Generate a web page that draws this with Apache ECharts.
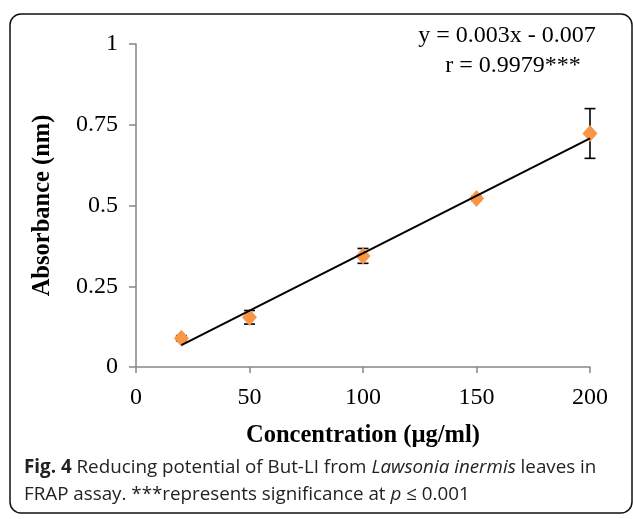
<!DOCTYPE html>
<html>
<head>
<meta charset="utf-8">
<script src="https://cdn.jsdelivr.net/npm/echarts@6.0.0/dist/echarts.min.js"></script>
<style>
  html, body { margin: 0; padding: 0; background: #fff; }
  #chart { width: 633px; height: 519px; }
</style>
</head>
<body>
<div id="chart"></div>
<script>
  // concentration (µg/ml)
  var concentration = [20, 50, 100, 150, 200];
  // absorbance, mean and error
  var absorbance = [0.089, 0.154, 0.344, 0.522, 0.723];
  var absError = [0.008, 0.021, 0.023, 0.006, 0.077];
  // trend line end points
  var trendX = [20, 200];
  var trendY = [0.068, 0.708];
  var xTicks = [0, 50, 100, 150, 200];
  var yTicks = [0, 0.25, 0.5, 0.75, 1];

  var chart = echarts.init(document.getElementById('chart'));

  var points = concentration.map(function (x, i) { return [x, absorbance[i]]; });
  var errors = concentration.map(function (x, i) { return [x, absorbance[i] - absError[i], absorbance[i] + absError[i]]; });
  var trend = trendX.map(function (x, i) { return [x, trendY[i]]; });

  var serif = 'Liberation Serif';
  var axisGray = '#868686';

  var option = {
    animation: false,
    backgroundColor: '#fff',
    grid: { left: 136, top: 44, width: 454, height: 323, outerBoundsMode: 'none' },
    xAxis: {
      type: 'value',
      min: xTicks[0], max: xTicks[xTicks.length - 1], interval: 50,
      name: 'Concentration (µg/ml)',
      nameLocation: 'middle',
      nameGap: 56,
      nameTextStyle: { fontFamily: serif, fontWeight: 'bold', fontSize: 24.5, color: '#000' },
      axisLine: { lineStyle: { color: axisGray, width: 1.5 } },
      axisTick: { length: 6, lineStyle: { color: axisGray, width: 1.5 } },
      axisLabel: { margin: 19, fontFamily: serif, fontSize: 24, color: '#000' },
      splitLine: { show: false }
    },
    yAxis: {
      type: 'value',
      min: yTicks[0], max: yTicks[yTicks.length - 1], interval: 0.25,
      name: 'Absorbance (nm)',
      nameLocation: 'middle',
      nameGap: 81,
      nameTextStyle: { fontFamily: serif, fontWeight: 'bold', fontSize: 24.5, color: '#000' },
      axisLine: { show: true, lineStyle: { color: axisGray, width: 1.5 } },
      axisTick: { show: true, length: 7, lineStyle: { color: axisGray, width: 1.5 } },
      axisLabel: { margin: 18, fontFamily: serif, fontSize: 24, color: '#000' },
      splitLine: { show: false }
    },
    series: [
      {
        type: 'custom',
        z: 1,
        data: errors,
        renderItem: function (params, api) {
          var x = api.value(0);
          var lo = api.coord([x, api.value(1)]);
          var hi = api.coord([x, api.value(2)]);
          var w = 5.5;
          var st = { stroke: '#000', lineWidth: 1.6 };
          return {
            type: 'group',
            children: [
              { type: 'line', shape: { x1: lo[0], y1: lo[1], x2: hi[0], y2: hi[1] }, style: st },
              { type: 'line', shape: { x1: lo[0] - w, y1: lo[1], x2: lo[0] + w, y2: lo[1] }, style: st },
              { type: 'line', shape: { x1: hi[0] - w, y1: hi[1], x2: hi[0] + w, y2: hi[1] }, style: st }
            ]
          };
        }
      },
      {
        type: 'scatter',
        z: 2,
        symbol: 'diamond',
        symbolSize: [15, 17],
        itemStyle: { color: '#F79646', opacity: 1 },
        data: points
      },
      {
        type: 'line',
        z: 3,
        showSymbol: false,
        symbol: 'none',
        lineStyle: { color: '#000', width: 2 },
        data: trend
      }
    ],
    graphic: [
      {
        type: 'rect',
        shape: { x: 10, y: 14, width: 622, height: 499, r: 11 },
        style: { fill: 'none', stroke: '#111', lineWidth: 1.5 }
      },
      {
        type: 'text',
        style: {
          x: 507, y: 36, text: 'y = 0.003x - 0.007',
          fontFamily: serif, fontSize: 24, fill: '#000',
          align: 'center', verticalAlign: 'middle'
        }
      },
      {
        type: 'text',
        style: {
          x: 513, y: 66, text: 'r = 0.9979***',
          fontFamily: serif, fontSize: 24, fill: '#000',
          align: 'center', verticalAlign: 'middle'
        }
      },
      {
        type: 'text',
        style: {
          x: 24, y: 481,
          text: '{b|Fig. 4} Reducing potential of But-LI from {i|Lawsonia inermis} leaves in\nFRAP assay. ***represents significance at {i|p} ≤ 0.001',
          fontFamily: 'Open Sans', fontSize: 18.8, fill: '#222',
          lineHeight: 27, verticalAlign: 'middle',
          rich: {
            b: { fontWeight: 'bold', fontFamily: 'Open Sans', fontSize: 18.8, fill: '#222', lineHeight: 27 },
            i: { fontStyle: 'italic', fontFamily: 'Open Sans', fontSize: 18.8, fill: '#222', lineHeight: 27 }
          }
        }
      }
    ]
  };

  chart.setOption(option);
</script>
</body>
</html>
